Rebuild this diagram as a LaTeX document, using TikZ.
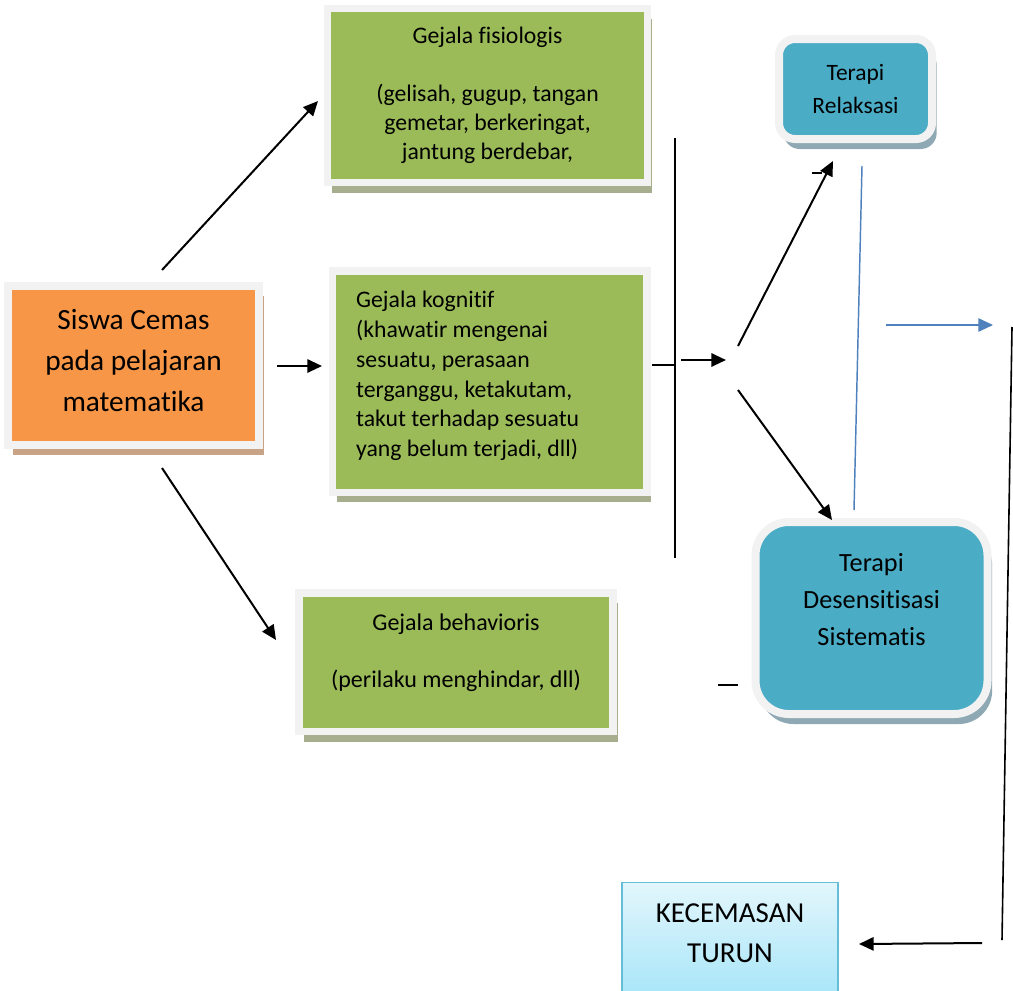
\documentclass[tikz,border=0pt]{standalone}
\usepackage{fontspec}
\setmainfont{Carlito}[Ligatures=NoCommon]
\usetikzlibrary{arrows.meta,shadows}

\definecolor{orangebox}{RGB}{247,150,70}
\definecolor{greenbox}{RGB}{155,187,89}
\definecolor{tealbox}{RGB}{75,172,198}
\definecolor{framegray}{RGB}{242,242,242}
\definecolor{shadeorange}{RGB}{201,163,133}
\definecolor{shadegreen}{RGB}{166,174,142}
\definecolor{shadeteal}{RGB}{143,169,180}
\definecolor{bluelink}{RGB}{79,129,189}
\definecolor{cyantop}{RGB}{226,246,252}
\definecolor{cyanbot}{RGB}{166,229,248}
\definecolor{cyanline}{RGB}{100,190,215}

\tikzset{every picture/.style={line width=0.75pt}}
\tikzset{
  box/.style={inner sep=0pt, align=center, draw=framegray, line width=5.5pt},
  cause/.style={box, line width=6pt, fill=orangebox,
    drop shadow={shadow xshift=4pt, shadow yshift=-7.5pt, fill=shadeorange, opacity=1}},
  symptom/.style={box, fill=greenbox,
    drop shadow={shadow xshift=3.4pt, shadow yshift=-7.5pt, fill=shadegreen, opacity=1}},
  therapy/.style={box, line width=6pt, fill=tealbox,
    drop shadow={shadow xshift=3.5pt, shadow yshift=-7.5pt, fill=shadeteal, opacity=1}},
  outcome/.style={align=center, inner sep=0pt, draw=cyanline, line width=1pt,
    top color=cyantop, bottom color=cyanbot},
  arr/.style={-{Triangle[length=11pt,width=10pt]}, line width=1.5pt},
  bluearr/.style={-{Triangle[length=11pt,width=10pt]}, draw=bluelink, line width=1.3pt},
}

\begin{document}
\begin{tikzpicture}[x=0.75pt,y=0.75pt,yscale=-1,xscale=1]
\useasboundingbox (0,0) rectangle (1013,990);
\clip (0,0) rectangle (1013,990);

%Shape: Rectangle [siswa]
\node[cause, minimum width=188.25pt, minimum height=118.9pt,
  font=\fontsize{22}{30.75}\selectfont] (siswa) at (133.5,365.25)
  {Siswa Cemas\\pada pelajaran\\matematika\\[-23pt]\mbox{}};
%Shape: Rectangle [fisiologis]
\node[symptom, minimum width=240pt, minimum height=130.5pt,
  font=\fontsize{17.8}{21.75}\selectfont] (fisiologis) at (487.5,95.5)
  {Gejala fisiologis\\[\baselineskip](gelisah, gugup, tangan\\gemetar, berkeringat,\\jantung berdebar,};
%Shape: Rectangle [kognitif]
\node[symptom, text width=200pt, inner xsep=18pt, align=flush left, minimum height=166pt,
  font=\fontsize{17.8}{22.3}\selectfont] (kognitif) at (489.5,381.75)
  {Gejala kognitif\\(khawatir mengenai\\sesuatu, perasaan\\terganggu, ketakutam,\\takut terhadap sesuatu\\yang belum terjadi, dll)\\[-10.5pt]\mbox{}};
%Shape: Rectangle [behavioris]
\node[symptom, minimum width=235.5pt, minimum height=103.9pt,
  font=\fontsize{18}{21.4}\selectfont] (behavioris) at (456,662.25)
  {Gejala behavioris\\[\baselineskip](perilaku menghindar, dll)\\[-4pt]\mbox{}};
%Shape: Rounded Rect [relaksasi]
\node[therapy, rounded corners=12pt, minimum width=114.75pt, minimum height=75pt,
  font=\fontsize{17.6}{24.75}\selectfont] (relaksasi) at (855.5,89)
  {Terapi\\Relaksasi};
%Shape: Rounded Rect [desensitisasi]
\node[therapy, rounded corners=25pt, minimum width=174pt, minimum height=144pt,
  font=\fontsize{19.7}{27.75}\selectfont] (desensitisasi) at (871.5,618)
  {Terapi\\Desensitisasi\\Sistematis\\\mbox{}};
%Shape: Rectangle [turun]
\node[outcome, anchor=north, minimum width=162pt, minimum height=88.5pt,
  font=\fontsize{21.7}{30}\selectfont] (turun) at (730,882)
  {KECEMASAN\\TURUN\\[-16.5pt]\mbox{}};

% end points of the connectors
\coordinate (sisUp) at (162,270);
\coordinate (fisIn) at (318,101);
\coordinate (sisRt) at (277,366);
\coordinate (kogIn) at (322,366);
\coordinate (sisDn) at (162,468);
\coordinate (behIn) at (276,640);
\coordinate (kogOut) at (652,365);
\coordinate (barMid) at (674,365);
\coordinate (barTop) at (675,138);
\coordinate (barBot) at (675,558);
\coordinate (splitIn) at (681,360);
\coordinate (splitOut) at (726,360);
\coordinate (relFrom) at (738,346);
\coordinate (relIn) at (833,161);
\coordinate (desFrom) at (738,390);
\coordinate (desIn) at (832,520);
\coordinate (relOut) at (862,166);
\coordinate (desOut) at (854,510);
\coordinate (blueFrom) at (886,325);
\coordinate (blueTo) at (993,325);
\coordinate (sideTop) at (1012,327);
\coordinate (sideBot) at (1002,940);
\coordinate (backFrom) at (982,943);
\coordinate (turunIn) at (859,944);

%Straight Lines
\draw[arr] (sisUp) -- (fisIn);
\draw[arr] (sisRt) -- (kogIn);
\draw[arr] (sisDn) -- (behIn);
\draw[line width=1pt] (kogOut) -- (barMid);
\draw[line width=1.1pt] (barTop) -- (barBot);
\draw[arr] (splitIn) -- (splitOut);
\draw[arr] (relFrom) -- (relIn);
\draw[arr] (desFrom) -- (desIn);
\draw[draw=bluelink, line width=1.1pt] (relOut) -- (desOut);
\draw[bluearr] (blueFrom) -- (blueTo);
\draw[line width=1.2pt] (sideTop) -- (sideBot);
\draw[arr] (backFrom) -- (turunIn);
%small marks
\draw[line width=1.1pt] (812,173) -- (822,173);
\draw[line width=1.1pt] (718,685) -- (738,685);

\end{tikzpicture}
\end{document}
